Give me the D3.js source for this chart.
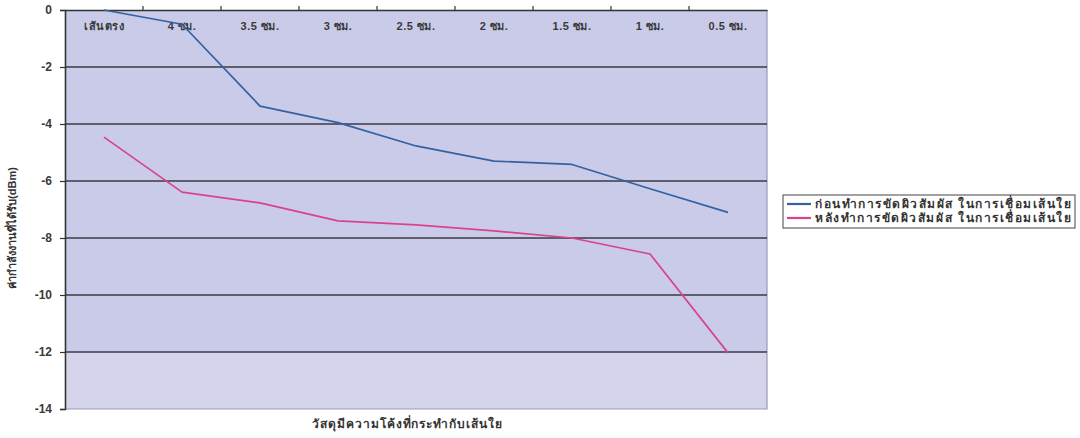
<!DOCTYPE html>
<html>
<head>
<meta charset="utf-8">
<script src="https://cdn.jsdelivr.net/npm/d3@7"></script>
<style>
  html, body { margin: 0; padding: 0; background: #fff; }
  svg { display: block; font-family: "Liberation Sans", Arial, "Noto Sans", sans-serif; }
</style>
</head>
<body>
<svg id="chart" width="1080" height="438"></svg>
<script>
// Bend conditions along the fibre (x categories)
const categories = ["เส้นตรง", "4 ซม.", "3.5 ซม.", "3 ซม.", "2.5 ซม.", "2 ซม.", "1.5 ซม.", "1 ซม.", "0.5 ซม."];
// Measured power (dBm)
const beforePolish = [0, -0.5, -3.37, -3.95, -4.77, -5.3, -5.42, -6.27, -7.1];
const afterPolish  = [-4.46, -6.39, -6.77, -7.4, -7.54, -7.75, -8.0, -8.56, -12.03];
const seriesNames = ["ก่อนทำการขัดผิวสัมผัส ในการเชื่อมเส้นใย", "หลังทำการขัดผิวสัมผัส ในการเชื่อมเส้นใย"];
const yTicks = [0, -2, -4, -6, -8, -10, -12, -14];
const xTitle = "วัสดุมีความโค้งที่กระทำกับเส้นใย";
const yTitle = "ค่ากำลังงานที่ได้รับ(dBm)";

const svg = d3.select("#chart");
const plot = { left: 65, right: 767, top: 10, bottom: 409 };

const x = d3.scaleBand().domain(categories).range([plot.left, plot.right]);
const y = d3.scaleLinear().domain([-14, 0]).range([plot.bottom, plot.top]);

// plot background, slightly lighter below the lowest gridline
svg.append("rect")
  .attr("x", plot.left).attr("y", plot.top)
  .attr("width", plot.right - plot.left).attr("height", plot.bottom - plot.top)
  .attr("fill", "#c9cbe8");
svg.append("rect")
  .attr("x", plot.left).attr("y", y(-12))
  .attr("width", plot.right - plot.left).attr("height", plot.bottom - y(-12))
  .attr("fill", "#d4d5ed");

// right / bottom frame
svg.append("path")
  .attr("d", `M${plot.right},${plot.top}V${plot.bottom}H${plot.left}`)
  .attr("fill", "none").attr("stroke", "#9a9cb4").attr("stroke-width", 1.2);

// horizontal gridlines
svg.append("g").selectAll("line")
  .data(yTicks.filter(v => v !== 0 && v !== -14))
  .join("line")
  .attr("x1", plot.left).attr("x2", plot.right)
  .attr("y1", d => y(d)).attr("y2", d => y(d))
  .attr("stroke", "#3a3a44").attr("stroke-width", 1.4);

// y axis (left)
const yAxis = svg.append("g")
  .attr("transform", `translate(${plot.left},0)`)
  .call(d3.axisLeft(y).tickValues(yTicks).tickSize(5).tickPadding(8).tickFormat(d3.format("d")));
yAxis.select(".domain").attr("stroke", "#333").attr("stroke-width", 1.6);
yAxis.selectAll(".tick line").attr("stroke", "#333").attr("stroke-width", 1.2);
yAxis.selectAll(".tick text")
  .attr("font-size", 12).attr("font-weight", "bold").attr("fill", "#3a3a3a")
  .text(d => d < 0 ? "-" + Math.abs(d) : d);

// x axis drawn along the zero line, labels inside the plot
const xAxis = svg.append("g")
  .attr("transform", `translate(0,${y(0)})`)
  .call(d3.axisTop(x).tickSize(0).tickSizeOuter(0));
xAxis.select(".domain").attr("stroke", "#333").attr("stroke-width", 1.6);
xAxis.selectAll(".tick text")
  .attr("font-size", 11).attr("font-weight", "bold").attr("fill", "#3a3a3a")
  .attr("letter-spacing", 0.5)
  .attr("y", 20).attr("dy", "0");
// category boundary ticks above the axis line
svg.append("g").selectAll("line")
  .data(categories.slice(1))
  .join("line")
  .attr("x1", d => x(d)).attr("x2", d => x(d))
  .attr("y1", y(0) - 4).attr("y2", y(0))
  .attr("stroke", "#333").attr("stroke-width", 1.2);

// series lines
const line = d3.line()
  .x((d, i) => x(categories[i]) + x.bandwidth() / 2)
  .y(d => y(d));
const colors = ["#3462a0", "#d8438f"];
[beforePolish, afterPolish].forEach((s, i) => {
  svg.append("path")
    .datum(s)
    .attr("d", line)
    .attr("fill", "none")
    .attr("stroke", colors[i])
    .attr("stroke-width", 1.7)
    .attr("stroke-linejoin", "round");
});

// axis titles
svg.append("text")
  .attr("x", 312).attr("y", 428)
  .attr("textLength", 190).attr("lengthAdjust", "spacing")
  .attr("font-size", 12).attr("font-weight", "bold").attr("fill", "#333")
  .text(xTitle);
svg.append("text")
  .attr("transform", "translate(16,228) rotate(-90)")
  .attr("text-anchor", "middle")
  .attr("font-size", 11).attr("font-weight", "bold").attr("fill", "#333")
  .text(yTitle);

// legend
const lg = svg.append("g").attr("transform", "translate(783,195)");
lg.append("rect")
  .attr("width", 292).attr("height", 33)
  .attr("fill", "#fff").attr("stroke", "#444").attr("stroke-width", 1);
seriesNames.forEach((name, i) => {
  const cy = 9 + i * 14;
  lg.append("line")
    .attr("x1", 4).attr("x2", 28).attr("y1", cy).attr("y2", cy)
    .attr("stroke", colors[i]).attr("stroke-width", 2.2);
  lg.append("text")
    .attr("x", 32).attr("y", cy + 4)
    .attr("textLength", 256).attr("lengthAdjust", "spacing")
    .attr("font-size", 12).attr("font-weight", "bold").attr("fill", "#333")
    .text(name);
});
</script>
</body>
</html>
